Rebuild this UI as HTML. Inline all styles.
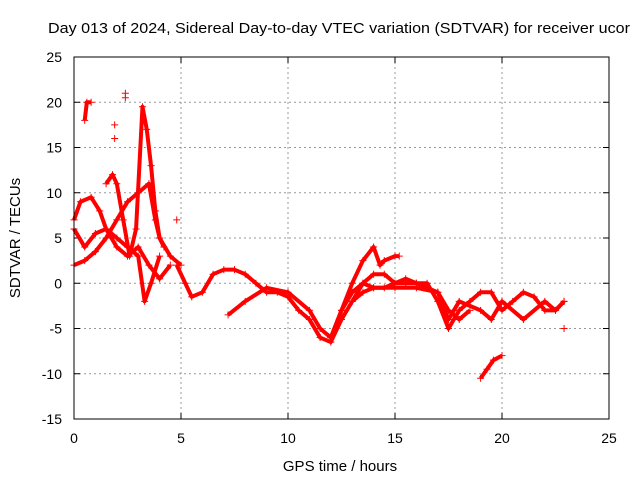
<!DOCTYPE html>
<html><head><meta charset="utf-8"><style>
body{margin:0;background:#fff}
text{font-family:"Liberation Sans",sans-serif;font-size:14px;fill:#000}
</style></head><body>
<svg id="chart" width="640" height="480" xmlns="http://www.w3.org/2000/svg">
<text x="48" y="33" textLength="582" lengthAdjust="spacingAndGlyphs" style="font-size:15px">Day 013 of 2024, Sidereal Day-to-day VTEC variation (SDTVAR) for receiver ucor</text>
<text x="340" y="471" text-anchor="middle" style="font-size:15px">GPS time / hours</text>
<text transform="translate(20,238) rotate(-90)" text-anchor="middle" style="font-size:15px">SDTVAR / TECUs</text>
<g id="grid"></g>
<g id="ticks"></g>
<g id="series"></g>
<rect x="74" y="57" width="535" height="362" fill="none" stroke="#000" stroke-width="1"/>
</svg>
<script>
const xTicks=[0,5,10,15,20,25];
const yTicks=[-15,-10,-5,0,5,10,15,20,25];
const trackA=[[4.8,2],[5.2,0],[5.5,-1.5],[6,-1],[6.5,1],[7,1.5],[7.5,1.5],[8,1],[8.5,0],[9,-1],[9.5,-1],[10,-1.5],[10.5,-3],[11,-4],[11.5,-6],[12,-6.5],[12.5,-4],[13,-2],[13.5,-1],[14,-0.5],[14.5,-0.5],[15,0],[15.5,0],[16,0],[16.5,0],[17,-2],[17.5,-5],[18,-3],[18.5,-2],[19,-1],[19.5,-1],[20,-3],[20.5,-2],[21,-1],[21.5,-1.5],[22,-3],[22.5,-3],[22.9,-2]];
const trackB=[[7.2,-3.5],[8,-2],[9,-0.5],[10,-1],[11,-3],[11.5,-5],[12,-6],[12.5,-3],[13,-1],[13.5,0],[14,-0.5],[15,-0.5],[16,-0.5],[17,-1],[17.5,-4],[18,-2],[19,-3],[19.5,-4],[20,-2],[21,-4],[22,-2],[22.5,-3],[22.9,-2]];
const trackC=[[12,-6],[12.5,-3],[13,0],[13.5,2.5],[14,4],[14.3,2],[14.5,2.5],[15,3],[15.2,3]];
const trackD=[[13,-2],[13.5,0],[14,1],[14.5,1],[15,0],[15.5,0.5],[16,0],[17,-1],[17.5,-3],[18,-4],[18.5,-3]];
const trackE=[[19,-10.5],[19.3,-9.5],[19.6,-8.5],[20,-8]];
const trackF=[[0,2],[0.5,2.5],[1,3.5],[1.5,5],[2,7],[2.5,9],[3,10],[3.5,11],[3.8,7],[4,5],[4.5,3],[5,2]];
const trackG=[[0,7],[0.3,9],[0.8,9.5],[1.2,8],[1.5,6],[2,4],[2.5,3],[3,4],[3.5,2],[4,0.5],[4.5,2]];
const trackH=[[0,6],[0.5,4],[1,5.5],[1.5,6],[2,5],[2.5,4],[3,3],[3.3,-2],[3.6,0],[4,3]];
const trackI=[[1.5,11],[1.8,12],[2,11],[2.3,7],[2.6,3],[2.9,6],[3.2,19.5],[3.4,17],[3.6,13],[3.8,8],[4,5],[4.2,4]];
const trackJ=[[0.5,18],[0.6,20],[0.8,20]];
const isolated=[[2.4,21],[2.4,20.5],[1.9,17.5],[1.9,16],[4.8,7],[22.9,-5]];
const tracks=[trackA,trackB,trackC,trackD,trackE,trackF,trackG,trackH,trackI,trackJ];
const NS="http://www.w3.org/2000/svg";
const X0=74,X1=609,Y0=419,Y1=57;
function xs(v){return X0+(v-0)/(25-0)*(X1-X0);}
function ys(v){return Y0-(v+15)/(40)*(Y0-Y1);}
function mk(tag,attrs,parent){const e=document.createElementNS(NS,tag);for(const k in attrs)e.setAttribute(k,attrs[k]);parent.appendChild(e);return e;}
const grid=document.getElementById('grid'),ticks=document.getElementById('ticks'),ser=document.getElementById('series');
xTicks.forEach(t=>{const x=xs(t);
 if(t>0&&t<25){const l=mk('line',{x1:x,x2:x,y1:Y1,y2:Y0,stroke:'#999','stroke-dasharray':'2,3'},grid);
 
 }
 mk('line',{x1:x,x2:x,y1:Y0,y2:Y0-6,stroke:'#000'},ticks);mk('line',{x1:x,x2:x,y1:Y1,y2:Y1+6,stroke:'#000'},ticks);
 const tx=mk('text',{x:x,y:Y0+24,'text-anchor':'middle'},ticks);tx.textContent=t;
 
 });
yTicks.forEach(t=>{const y=ys(t);
 if(t>-15&&t<25){const l=mk('line',{x1:X0,x2:X1,y1:y,y2:y,stroke:'#999','stroke-dasharray':'2,3'},grid);
 
 }
 mk('line',{x1:X0,x2:X0+6,y1:y,y2:y,stroke:'#000'},ticks);mk('line',{x1:X1,x2:X1-6,y1:y,y2:y,stroke:'#000'},ticks);
 const tx=mk('text',{x:X0-12,y:y+5,'text-anchor':'end'},ticks);tx.textContent=t;
 
 });
function plus(x,y){const p=mk('path',{d:`M${x-3.5},${y}h7M${x},${y-3.5}v7`,stroke:'#f00','stroke-width':1},ser);
 
 }
tracks.forEach(tr=>{const pl=mk('polyline',{points:tr.map(p=>xs(p[0])+','+ys(p[1])).join(' '),fill:'none',stroke:'#f00','stroke-width':4,'stroke-linejoin':'round'},ser);
 
 
 tr.forEach(p=>plus(xs(p[0]),ys(p[1])));});
isolated.forEach(p=>plus(xs(p[0]),ys(p[1])));
</script>
</body></html>
